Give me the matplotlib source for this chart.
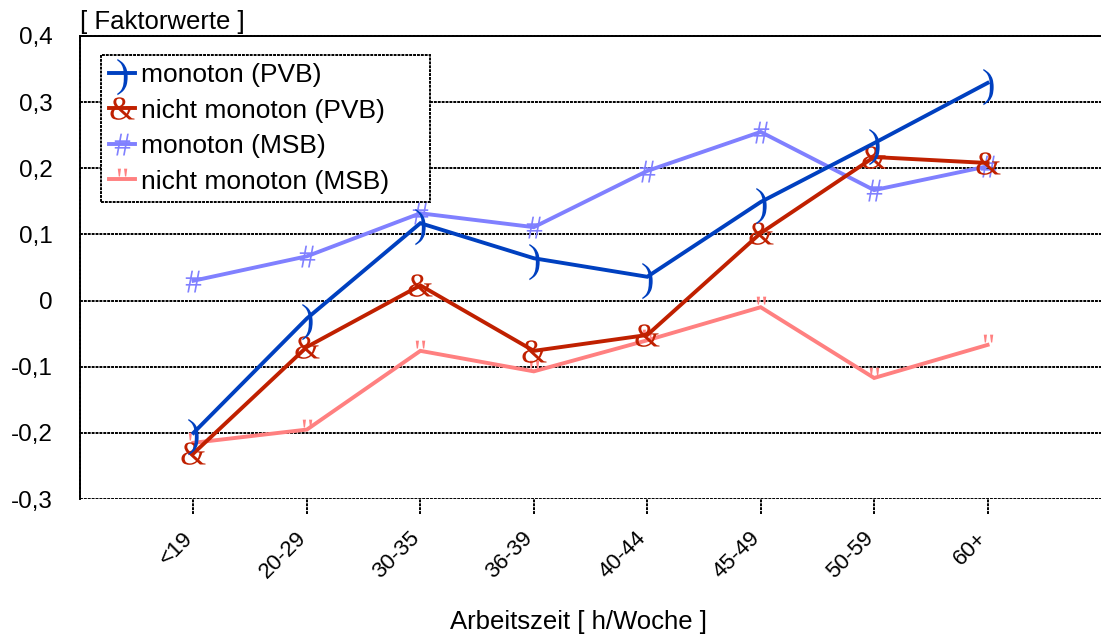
import numpy as np
import matplotlib
matplotlib.use('Agg')
import matplotlib.pyplot as plt
from matplotlib.textpath import TextPath
from matplotlib.font_manager import FontProperties
from matplotlib.path import Path
from matplotlib.ticker import FuncFormatter
from matplotlib.transforms import ScaledTranslation

plt.rcParams['font.family'] = ['Liberation Sans', 'DejaVu Sans']

# Arbeitszeitklassen
categories = ['<19', '20-29', '30-35', '36-39', '40-44', '45-49', '50-59', '60+']

# Faktorwerte je Gruppe
mono_pvb = [-0.20, -0.027, 0.117, 0.064, 0.036, 0.149, 0.238, 0.329]
nicht_mono_pvb = [-0.231, -0.070, 0.023, -0.076, -0.052, 0.102, 0.217, 0.208]
mono_msb = [0.030, 0.067, 0.132, 0.111, 0.196, 0.255, 0.167, 0.203]
nicht_mono_msb = [-0.215, -0.195, -0.076, -0.107, -0.060, -0.010, -0.117, -0.067]

y_ticks = [-0.3, -0.2, -0.1, 0, 0.1, 0.2, 0.3, 0.4]

DOTS = (0, (1.5, 0.5))
GLYPH_FONT = FontProperties(family='Liberation Serif')
GLYPH_SIZE = 24  # pt


def glyph_marker(ch, scale=1.0):
    """
    Zeichen als Marker-Pfad, horizontal zentriert, vertikal um die Zeilenmitte
    """
    tp = TextPath((0, 0), ch, size=1, prop=GLYPH_FONT)
    verts = tp.vertices.copy()
    bb = tp.get_extents()
    verts[:, 0] -= (bb.x0 + bb.x1) / 2
    verts[:, 1] -= 0.33
    path = Path(verts, tp.codes)
    # matplotlib skaliert Pfad-Marker auf max|vert|, daher Größe anpassen
    ms = GLYPH_SIZE * scale * 2 * np.max(np.abs(verts))
    return path, ms


series = [
    (nicht_mono_msb, '#FF8080', '"', 1.0, 'nicht monoton (MSB)', 3),
    (mono_msb, '#8080FF', '#', 1.0, 'monoton (MSB)', 4),
    (nicht_mono_pvb, '#C02000', '&', 1.0, 'nicht monoton (PVB)', 5),
    (mono_pvb, '#0040C0', ')', 1.2, 'monoton (PVB)', 6),
]

fig = plt.figure(figsize=(11.01, 6.37), dpi=100)
ax = fig.add_axes([0.0727, 0.2166, 0.9273, 0.7269])

x = np.arange(1, len(categories) + 1)
handles = {}
for values, color, ch, sc, label, z in series:
    path, ms = glyph_marker(ch, sc)
    line, = ax.plot(x, values, color=color, lw=2.8, marker=path, markersize=ms,
                    mfc=color, mec=color, mew=0, label=label, zorder=z,
                    solid_joinstyle='miter')
    handles[label] = line

ax.set_xlim(0, 9)
ax.set_ylim(-0.3, 0.4)
ax.set_yticks(y_ticks)
ax.yaxis.set_major_formatter(FuncFormatter(
    lambda v, pos: '0' if abs(v) < 1e-9 else f'{v:.1f}'.replace('.', ',')))
ax.tick_params(axis='y', length=0, pad=19.5, labelsize=17.5)

ax.set_xticks(x)
ax.set_xticklabels(categories, rotation=45, ha='right', va='center',
                   rotation_mode='anchor', fontsize=16)
ax.tick_params(axis='x', length=0, pad=26)
shift = ScaledTranslation(-3 / 72, 0, fig.dpi_scale_trans)
for lbl in ax.get_xticklabels():
    lbl.set_transform(lbl.get_transform() + shift)
# gestrichelte Teilstriche unterhalb der Achse
ax.vlines(x, -0.322, -0.3, colors='black', linestyles=DOTS, lw=1.4, clip_on=False)

ax.yaxis.grid(True, color='black', linestyle=DOTS, lw=1.4)
ax.set_axisbelow(True)
for side in ['right', 'bottom']:
    ax.spines[side].set_visible(False)
for side in ['left', 'top']:
    ax.spines[side].set_linestyle(DOTS)
    ax.spines[side].set_linewidth(1.4)

ax.text(0, 1.004, '[ Faktorwerte ]', transform=ax.transAxes, ha='left', va='bottom',
        fontsize=18.5)
fig.text(0.525, 1 - 622 / 637, 'Arbeitszeit [ h/Woche ]', ha='center', va='center',
         fontsize=18.5)

order = ['monoton (PVB)', 'nicht monoton (PVB)', 'monoton (MSB)', 'nicht monoton (MSB)']
leg = ax.legend([handles[k] for k in order], order, loc='upper left',
                bbox_to_anchor=(0.0206, 0.5, 0.322, 0.459), mode='expand',
                fontsize=19, numpoints=1,
                handlelength=1.0, handletextpad=0.2, labelspacing=0.44,
                borderpad=0.3, borderaxespad=0, fancybox=False, framealpha=1)
leg.get_frame().set_edgecolor('black')
leg.get_frame().set_linestyle(DOTS)
leg.get_frame().set_linewidth(1.4)
leg.set_zorder(10)

fig.savefig('out.png', dpi=100)
